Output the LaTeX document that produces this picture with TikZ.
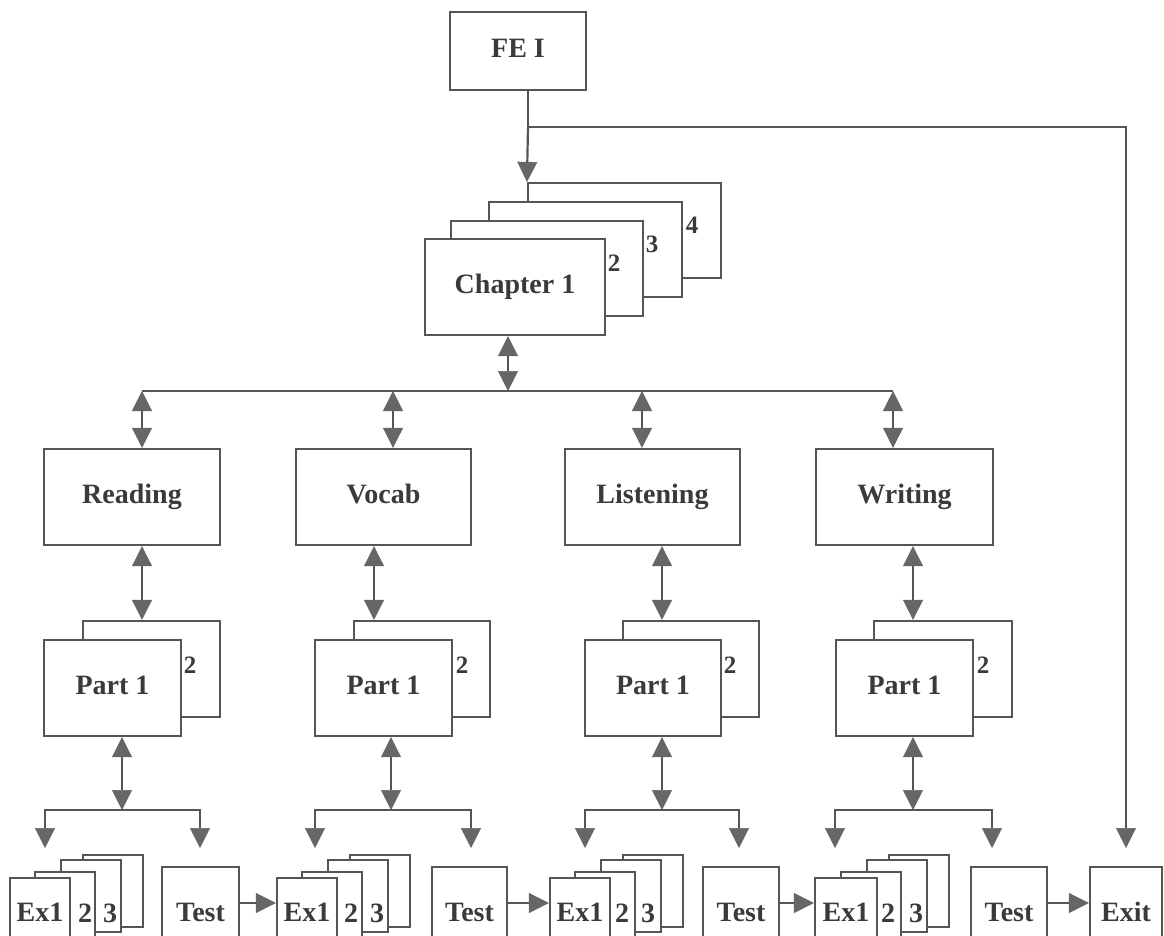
\documentclass[tikz,border=0pt]{standalone}
\usepackage{fontspec}
\setmainfont{Liberation Serif}
\usetikzlibrary{arrows.meta}
\definecolor{ln}{HTML}{555555}
\definecolor{tipc}{HTML}{666666}
\definecolor{txt}{HTML}{3A3A3A}
\tikzset{
  box/.style={draw=ln, line width=2.2pt, fill=white, inner sep=0pt, text=txt,
    text height=19pt, text depth=6pt,
    font=\fontsize{28}{30}\selectfont\bfseries},
  num/.style={inner sep=0pt, text=txt, font=\fontsize{25}{28}\selectfont\bfseries},
  arr/.style={draw=ln, line width=2.2pt,
    -{Triangle[width=20pt,length=20pt,fill=tipc,color=tipc,line width=0.5pt]}},
  dbl/.style={draw=ln, line width=2.2pt,
    {Triangle[width=20pt,length=20pt,fill=tipc,color=tipc,line width=0.5pt]}-{Triangle[width=20pt,length=20pt,fill=tipc,color=tipc,line width=0.5pt]}},
  ln/.style={draw=ln, line width=2.2pt},
}
\begin{document}
\begin{tikzpicture}[x=1pt,y=-1pt]
\fill[white] (0,0) rectangle (1164,936);
\path[use as bounding box] (0,0) rectangle (1164,936);
\clip (0,0) rectangle (1164,936);

% top
\node[box, minimum width=136pt, minimum height=78pt] (fe) at (518,51) {FE I};

% chapter stack
\node[box, minimum width=193pt, minimum height=95pt] (ch4) at (624.5,230.5) {};
\node[box, minimum width=193pt, minimum height=95pt] (ch3) at (585.5,249.5) {};
\node[box, minimum width=192pt, minimum height=95pt] (ch2) at (547,268.5) {};
\node[box, minimum width=180pt, minimum height=96pt] (ch1) at (515,287) {Chapter 1};
\node[num] (n4) at (692,225) {4};
\node[num] (n3) at (652,244) {3};
\node[num] (n2) at (614,263) {2};

% level boxes
\node[box, minimum width=176pt, minimum height=96pt] (rd) at (132,497) {Reading};
\node[box, minimum width=175pt, minimum height=96pt] (vo) at (383.5,497) {Vocab};
\node[box, minimum width=175pt, minimum height=96pt] (li) at (652.5,497) {Listening};
\node[box, minimum width=177pt, minimum height=96pt] (wr) at (904.5,497) {Writing};

% part stacks
\node[box, minimum width=137pt, minimum height=96pt] (pR2) at (151.5,669) {};
\node[box, minimum width=137pt, minimum height=96pt] (pR1) at (112.5,688) {Part 1};
\node[num] (pRn) at (190,665) {2};
\node[box, minimum width=136pt, minimum height=96pt] (pV2) at (422,669) {};
\node[box, minimum width=137pt, minimum height=96pt] (pV1) at (383.5,688) {Part 1};
\node[num] (pVn) at (462,665) {2};
\node[box, minimum width=136pt, minimum height=96pt] (pL2) at (691,669) {};
\node[box, minimum width=136pt, minimum height=96pt] (pL1) at (653,688) {Part 1};
\node[num] (pLn) at (730,665) {2};
\node[box, minimum width=138pt, minimum height=96pt] (pW2) at (943,669) {};
\node[box, minimum width=137pt, minimum height=96pt] (pW1) at (904.5,688) {Part 1};
\node[num] (pWn) at (983,665) {2};

% exercise stacks
\node[box, minimum width=60pt, minimum height=72pt] (eR4) at (113,891) {};
\node[box, minimum width=60pt, minimum height=72pt] (eR3) at (91,896) {};
\node[box, minimum width=60pt, minimum height=80pt] (eR2) at (65,912) {};
\node[box, minimum width=60pt, minimum height=74pt] (eR1) at (40,915) {Ex1};
\node[num, font=\fontsize{28}{30}\selectfont\bfseries] (eR2n) at (85,913) {2};
\node[num, font=\fontsize{28}{30}\selectfont\bfseries] (eR3n) at (110,913) {3};

\node[box, minimum width=60pt, minimum height=72pt] (eV4) at (380,891) {};
\node[box, minimum width=60pt, minimum height=72pt] (eV3) at (358,896) {};
\node[box, minimum width=60pt, minimum height=80pt] (eV2) at (332,912) {};
\node[box, minimum width=60pt, minimum height=74pt] (eV1) at (307,915) {Ex1};
\node[num, font=\fontsize{28}{30}\selectfont\bfseries] (eV2n) at (351,913) {2};
\node[num, font=\fontsize{28}{30}\selectfont\bfseries] (eV3n) at (377,913) {3};

\node[box, minimum width=60pt, minimum height=72pt] (eL4) at (653,891) {};
\node[box, minimum width=60pt, minimum height=72pt] (eL3) at (631,896) {};
\node[box, minimum width=60pt, minimum height=80pt] (eL2) at (605,912) {};
\node[box, minimum width=60pt, minimum height=74pt] (eL1) at (580,915) {Ex1};
\node[num, font=\fontsize{28}{30}\selectfont\bfseries] (eL2n) at (622,913) {2};
\node[num, font=\fontsize{28}{30}\selectfont\bfseries] (eL3n) at (648,913) {3};

\node[box, minimum width=60pt, minimum height=72pt] (eW4) at (919,891) {};
\node[box, minimum width=60pt, minimum height=72pt] (eW3) at (897,896) {};
\node[box, minimum width=60pt, minimum height=80pt] (eW2) at (871,912) {};
\node[box, minimum width=62pt, minimum height=74pt] (eW1) at (846,915) {Ex1};
\node[num, font=\fontsize{28}{30}\selectfont\bfseries] (eW2n) at (888,913) {2};
\node[num, font=\fontsize{28}{30}\selectfont\bfseries] (eW3n) at (916,913) {3};

% tests and exit
\node[box, minimum width=77pt, minimum height=96pt] (tR) at (200.5,915) {Test};
\node[box, minimum width=75pt, minimum height=96pt] (tV) at (469.5,915) {Test};
\node[box, minimum width=76pt, minimum height=96pt] (tL) at (741,915) {Test};
\node[box, minimum width=76pt, minimum height=96pt] (tW) at (1009,915) {Test};
\node[box, minimum width=72pt, minimum height=96pt] (ex) at (1126,915) {Exit};

% coordinates
\coordinate (fej) at (528,127);
\coordinate (exTip) at (1126,848);
\coordinate (chb) at (508,391);
\coordinate (bR) at (142,391);
\coordinate (bV) at (393,391);
\coordinate (bL) at (642,391);
\coordinate (bW) at (893,391);
\coordinate (aR) at (142,580);
\coordinate (aV) at (374,580);
\coordinate (aL) at (662,580);
\coordinate (aW) at (913,580);
\coordinate (sR) at (122,810);
\coordinate (sV) at (391,810);
\coordinate (sL) at (662,810);
\coordinate (sW) at (913,810);
\coordinate (sRl) at (45,848);  \coordinate (sRr) at (200,848);
\coordinate (sVl) at (315,848); \coordinate (sVr) at (471,848);
\coordinate (sLl) at (585,848); \coordinate (sLr) at (739,848);
\coordinate (sWl) at (835,848); \coordinate (sWr) at (992,848);

% connectors
\draw[ln] (fe.south -| fej) -- (fej);
\draw[arr] (fej) -- (ch4.north west);
\draw[arr] (fej) -| (exTip);
\draw[dbl] (ch1.south -| chb) -- (chb);
\draw[ln] (bR) -- (bW);
\draw[dbl] (bR) -- (bR |- rd.north);
\draw[dbl] (bV) -- (bV |- vo.north);
\draw[dbl] (bL) -- (bL |- li.north);
\draw[dbl] (bW) -- (bW |- wr.north);
\draw[dbl] (rd.south -| aR) -- (pR2.north -| aR);
\draw[dbl] (vo.south -| aV) -- (pV2.north -| aV);
\draw[dbl] (li.south -| aL) -- (pL2.north -| aL);
\draw[dbl] (wr.south -| aW) -- (pW2.north -| aW);
\draw[dbl] (pR1.south -| sR) -- (sR);
\draw[dbl] (pV1.south -| sV) -- (sV);
\draw[dbl] (pL1.south -| sL) -- (sL);
\draw[dbl] (pW1.south -| sW) -- (sW);
\draw[arr] (sR) -| (sRl); \draw[arr] (sR) -| (sRr);
\draw[arr] (sV) -| (sVl); \draw[arr] (sV) -| (sVr);
\draw[arr] (sL) -| (sLl); \draw[arr] (sL) -| (sLr);
\draw[arr] (sW) -| (sWl); \draw[arr] (sW) -| (sWr);
\draw[arr] ([yshift=12pt]tR.east) -- ([yshift=12pt]tR.east -| eV1.west);
\draw[arr] ([yshift=12pt]tV.east) -- ([yshift=12pt]tV.east -| eL1.west);
\draw[arr] ([yshift=12pt]tL.east) -- ([yshift=12pt]tL.east -| eW1.west);
\draw[arr] ([yshift=12pt]tW.east) -- ([yshift=12pt]tW.east -| ex.west);
\end{tikzpicture}
\end{document}
